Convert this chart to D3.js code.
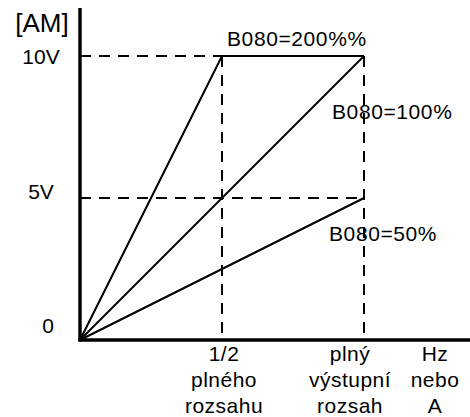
<!DOCTYPE html>
<html>
<head>
<meta charset="utf-8">
<script src="https://cdn.jsdelivr.net/npm/d3@7"></script>
<style>
  body { margin: 0; background: #fff; }
  text { font-family: "Liberation Sans", Arial, sans-serif; fill: #000; }
</style>
</head>
<body>
<script>
// canvas
var w = 470;
var h = 417;

// data
var seriesNames = ["B080=200%%", "B080=100%", "B080=50%"];
var series200 = [[0, 0], [0.5, 10], [1, 10]];
var series100 = [[0, 0], [1, 10]];
var series50 = [[0, 0], [1, 5]];
var yTicks = [0, 5, 10];
var yTickLabels = ["0", "5V", "10V"];
var xTicks = [0.5, 1];
var xTickLabels = [["1/2", "plného", "rozsahu"], ["plný", "výstupní", "rozsah"]];
var xUnitLabel = ["Hz", "nebo", "A"];
var yUnitLabel = "[AM]";

// scales
var x = d3.scaleLinear().domain([0, 1]).range([80, 364]);
var y = d3.scaleLinear().domain([0, 10]).range([340, 56]);

var svg = d3.select("body").append("svg")
    .attr("width", w)
    .attr("height", h);

// dashed guide lines
var dash = "11,8";
[10, 5].forEach(function(v) {
    svg.append("line")
        .attr("x1", x(0)).attr("x2", x(1))
        .attr("y1", y(v)).attr("y2", y(v))
        .attr("stroke", "#000").attr("stroke-width", 2)
        .attr("stroke-dasharray", dash);
});
xTicks.forEach(function(v) {
    svg.append("line")
        .attr("x1", x(v)).attr("x2", x(v))
        .attr("y1", y(10)).attr("y2", y(0))
        .attr("stroke", "#000").attr("stroke-width", 2)
        .attr("stroke-dasharray", dash);
});

// the three curves
var line = d3.line().x(function(d) { return x(d[0]); }).y(function(d) { return y(d[1]); });
[series200, series100, series50].forEach(function(s) {
    svg.append("path")
        .attr("d", line(s))
        .attr("fill", "none")
        .attr("stroke", "#000")
        .attr("stroke-width", 2);
});

// axes
svg.append("line")
    .attr("x1", x(0)).attr("x2", x(0))
    .attr("y1", 8).attr("y2", y(0) + 1.5)
    .attr("stroke", "#000").attr("stroke-width", 3.5);
svg.append("line")
    .attr("x1", x(0) - 1.5).attr("x2", w)
    .attr("y1", y(0)).attr("y2", y(0))
    .attr("stroke", "#000").attr("stroke-width", 3.5);

// y labels
svg.append("text")
    .attr("x", 42).attr("y", 32)
    .attr("text-anchor", "middle")
    .attr("font-size", 26)
    .text(yUnitLabel);

var yLabelPos = [[48, 333], [41, 199], [41, 64]];
yTicks.forEach(function(v, i) {
    svg.append("text")
        .attr("x", yLabelPos[i][0]).attr("y", yLabelPos[i][1])
        .attr("text-anchor", "middle")
        .attr("font-size", 21)
        .text(yTickLabels[i]);
});

// series labels
var seriesLabelPos = [[227, 46], [332, 119], [329, 241]];
seriesNames.forEach(function(n, i) {
    svg.append("text")
        .attr("x", seriesLabelPos[i][0]).attr("y", seriesLabelPos[i][1])
        .attr("font-size", 21)
        .attr("letter-spacing", 0.6)
        .text(n);
});

// x labels, three lines each
function multiLabel(cx, lines) {
    var t = svg.append("text")
        .attr("text-anchor", "middle")
        .attr("font-size", 21)
        .attr("letter-spacing", 0.5);
    lines.forEach(function(s, i) {
        t.append("tspan")
            .attr("x", cx)
            .attr("y", 361 + i * 26)
            .text(s);
    });
}
multiLabel(x(0.5) + 2, xTickLabels[0]);
multiLabel(x(1) - 14, xTickLabels[1]);
multiLabel(435, xUnitLabel);
</script>
</body>
</html>
